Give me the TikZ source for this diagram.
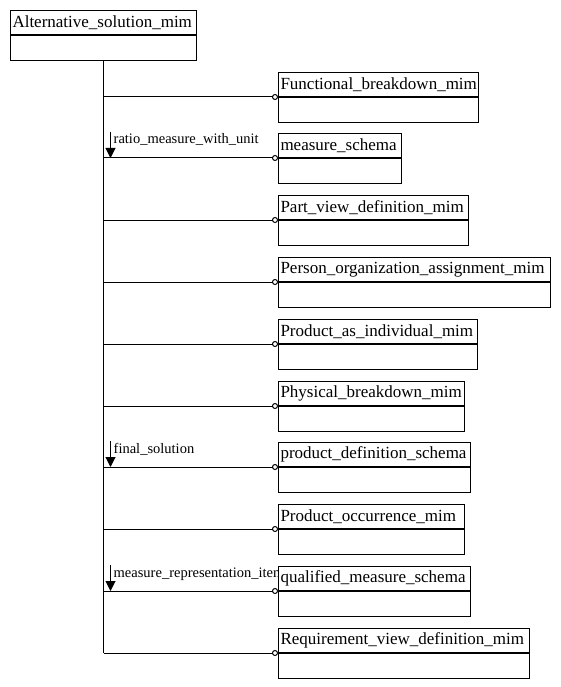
\documentclass[tikz,border=0pt]{standalone}
\usepackage{fontspec}
\setmainfont{Liberation Serif}
\usetikzlibrary{arrows.meta,calc}
\tikzset{
  ttl/.style={draw, line width=1pt, anchor=north west, minimum height=24pt,
    inner xsep=0pt, inner ysep=0pt, align=left, font=\fontsize{17}{18}\selectfont},
  body/.style={draw, line width=1pt, anchor=north west, minimum height=25pt, inner sep=0pt},
  conn/.style={line width=1pt, -{Circle[open,length=6pt,width=6pt]}},
  role/.style={line width=1pt, -{Triangle[length=10pt,width=10pt]}},
  rolelbl/.style={anchor=base west, inner sep=0pt, font=\fontsize{14.5}{16}\selectfont}
}
% entity box: name, x, top, width, title
\newcommand{\entity}[5]{%
  \node[ttl, text width=#4pt] (#1) at (#2,#3) {\hspace{2pt}#5};
  \node[body, minimum width=#4pt] (#1-b) at (#1.south west) {};
}

\begin{document}
\begin{tikzpicture}[x=1pt, y=-1pt]
  \useasboundingbox (0,0) rectangle (560,687);
  % boxes
  \entity{asm}{10}{10}{186}{Alternative\_solution\_mim}
  \entity{fbm}{278}{72}{200}{Functional\_breakdown\_mim}
  \entity{ms}{278}{133}{123}{measure\_schema}
  \entity{pvd}{278}{195}{190}{Part\_view\_definition\_mim}
  \entity{poa}{278}{257}{272}{Person\_organization\_assignment\_mim}
  \entity{pai}{278}{319}{199}{Product\_as\_individual\_mim}
  \entity{pbm}{278}{381}{186}{Physical\_breakdown\_mim}
  \entity{pds}{278}{442}{192}{product\_definition\_schema}
  \entity{pom}{278}{504}{186}{Product\_occurrence\_mim}
  \entity{qms}{278}{566}{192}{qualified\_measure\_schema}
  \entity{rvd}{278}{628}{251}{Requirement\_view\_definition\_mim}
  % trunk
  \draw[line width=1pt] (asm-b.south) -- (asm-b.south |- rvd.south west);
  % connectors
  \draw[conn] (asm-b.south |- fbm.south west) -- (fbm.south west);
  \draw[conn] (asm-b.south |- ms.south west) -- (ms.south west);
  \draw[conn] (asm-b.south |- pvd.south west) -- (pvd.south west);
  \draw[conn] (asm-b.south |- poa.south west) -- (poa.south west);
  \draw[conn] (asm-b.south |- pai.south west) -- (pai.south west);
  \draw[conn] (asm-b.south |- pbm.south west) -- (pbm.south west);
  \draw[conn] (asm-b.south |- pds.south west) -- (pds.south west);
  \draw[conn] (asm-b.south |- pom.south west) -- (pom.south west);
  \draw[conn] (asm-b.south |- qms.south west) -- (qms.south west);
  \draw[conn] (asm-b.south |- rvd.south west) -- (rvd.south west);
  % role labels
  \draw[role] ($(asm-b.south |- ms.south west)+(7,-26)$) -- ($(asm-b.south |- ms.south west)+(7,0)$);
  \node[rolelbl] (rmwu) at ($(asm-b.south |- ms.south west)+(10,-14)$) {ratio\_measure\_with\_unit};
  \draw[role] ($(asm-b.south |- pds.south west)+(7,-26)$) -- ($(asm-b.south |- pds.south west)+(7,0)$);
  \node[rolelbl] (fs) at ($(asm-b.south |- pds.south west)+(10,-14)$) {final\_solution};
  \draw[role] ($(asm-b.south |- qms.south west)+(7,-26)$) -- ($(asm-b.south |- qms.south west)+(7,0)$);
  \begin{scope}
    \clip ($(asm-b.south |- qms.south west)+(8,-30)$) rectangle ($(qms.south west)+(-1,-2)$);
    \node[rolelbl] (mri) at ($(asm-b.south |- qms.south west)+(10,-14)$) {measure\_representation\_item};
  \end{scope}
\end{tikzpicture}
\end{document}
